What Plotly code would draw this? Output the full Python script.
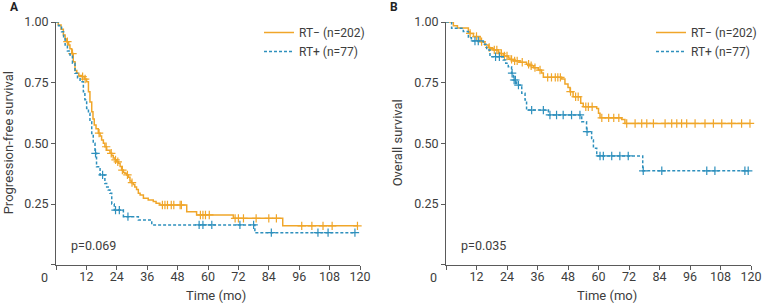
import bisect
import plotly.graph_objects as go

# ---------------- data ----------------
# Panel A: progression-free survival (Kaplan-Meier steps)
pfs_neg_t = [0, 0.9, 2.0, 2.9, 3.6, 4.2, 5.0, 5.5, 6.2, 6.8, 7.5, 8.2, 9.0, 10.1, 11.2, 12.1, 12.8, 13.4,
             14.1, 14.6, 15.1, 15.8, 16.7, 17.4, 18.0, 18.7, 19.3, 20.0, 21.3, 22.0, 22.6, 23.3, 24.0, 24.6,
             25.3, 25.9, 26.6, 27.2, 27.9, 28.6, 29.2, 29.8, 30.5, 31.1, 31.8, 32.5, 33.2, 34.5, 36.4, 38.4,
             39.5, 41.0, 51.6, 55.5, 70.0, 89.5, 119]
pfs_neg_s = [1.0, 0.988, 0.97, 0.946, 0.93, 0.919, 0.905, 0.89, 0.87, 0.836, 0.80, 0.789, 0.78, 0.775, 0.765,
             0.754, 0.713, 0.67, 0.63, 0.60, 0.576, 0.56, 0.542, 0.53, 0.514, 0.50, 0.486, 0.472, 0.459, 0.45,
             0.44, 0.432, 0.424, 0.418, 0.405, 0.39, 0.38, 0.377, 0.37, 0.36, 0.345, 0.338, 0.33, 0.32, 0.31,
             0.294, 0.287, 0.274, 0.267, 0.26, 0.253, 0.246, 0.218, 0.205, 0.191, 0.16, 0.16]
pfs_neg_cens = [4.5, 6.5, 10.5, 11.5, 17.0, 19.8, 21.8, 23.5, 24.4, 26.2, 28.2, 30.0, 42, 43, 44, 45.5, 46.5,
                49, 49.5, 57, 58, 59, 60.5, 70.7, 72, 74, 79, 84, 87, 97, 101, 105.4, 109, 119]

pfs_pos_t = [0, 1.0, 2.2, 3.0, 3.6, 4.5, 5.5, 6.5, 7.5, 8.5, 9.5, 10.8, 11.4, 12.1, 12.8, 13.4, 14.1, 14.7,
             15.4, 16.0, 17.4, 19.3, 20.0, 20.6, 21.3, 22.0, 23.0, 26.6, 32.5, 37.8, 78.5, 118]
pfs_pos_s = [1.0, 0.985, 0.96, 0.935, 0.905, 0.88, 0.864, 0.83, 0.789, 0.77, 0.754, 0.713, 0.68, 0.644, 0.624,
             0.589, 0.541, 0.50, 0.459, 0.404, 0.37, 0.335, 0.32, 0.308, 0.294, 0.25, 0.225, 0.198, 0.184,
             0.164, 0.132, 0.132]
pfs_pos_cens = [15.6, 18.4, 23.5, 25.0, 28.4, 56.5, 58, 61.5, 72.6, 78, 85, 103.4, 107.4, 118]

# Panel B: overall survival
os_neg_t = [0, 2.9, 4.5, 8.8, 9.4, 10.8, 13.4, 15.3, 16.7, 17.3, 18.6, 20.6, 21.2, 22.6, 24.5, 25.2, 26.5,
            29.1, 31.7, 33.0, 34.5, 36.3, 37.6, 38.3, 45.5, 46.8, 48.0, 48.8, 50.0, 53.0, 54.0, 59.3, 60.0,
            60.6, 69.1, 70.4, 119.6]
os_neg_s = [1.0, 0.985, 0.975, 0.96, 0.953, 0.94, 0.919, 0.905, 0.895, 0.89, 0.885, 0.875, 0.87, 0.86, 0.852,
            0.846, 0.84, 0.834, 0.826, 0.82, 0.812, 0.802, 0.79, 0.772, 0.765, 0.745, 0.73, 0.713, 0.692,
            0.665, 0.651, 0.644, 0.624, 0.605, 0.598, 0.582, 0.582]
os_neg_cens = [9.5, 12, 14, 17, 19, 20, 21.8, 23, 24, 25.8, 27, 28, 30, 32.5, 33.5, 35, 37, 40, 41.5, 43, 44,
               45, 49, 51, 52, 55, 56, 57.5, 61.3, 64, 66, 68, 71.1, 74.4, 77, 79, 81.6, 86.2, 88.8, 90.8,
               92.7, 94.7, 98, 101.9, 105.2, 108.5, 112.4, 116.3, 119.6]

os_pos_t = [0, 2.2, 6.8, 8.8, 10.0, 14.7, 16.0, 17.3, 22.5, 23.5, 24.5, 25.8, 26.5, 27.8, 29.8, 31.1, 31.7,
            40.3, 53.4, 55.3, 57.3, 58.0, 59.3, 77.4, 118.9]
os_pos_s = [1.0, 0.974, 0.961, 0.935, 0.922, 0.908, 0.885, 0.857, 0.843, 0.83, 0.816, 0.789, 0.761, 0.74,
            0.706, 0.679, 0.637, 0.617, 0.589, 0.548, 0.514, 0.48, 0.448, 0.387, 0.387]
os_pos_cens = [11.4, 12.7, 19.5, 21, 26, 26.8, 27.3, 28.5, 33.7, 38.3, 40.9, 43.5, 46.1, 49.4, 52.7, 55.5,
               60.6, 61.9, 65.2, 68.4, 71.7, 77.6, 84.9, 102.6, 105.8, 117.6, 118.9]

x_ticks = [0, 12, 24, 36, 48, 60, 72, 84, 96, 108, 120]
y_ticks = [0, 0.25, 0.5, 0.75, 1.0]
y_labels = ["", "0.25", "0.50", "0.75", "1.00"]
group_names = ["RT\u2212 (n=202)", "RT+ (n=77)"]
p_values = ["p=0.069", "p=0.035"]
y_titles = ["Progression-free survival", "Overall survival"]
panel_labels = ["A", "B"]

# ---------------- style ----------------
ORANGE = "#F0A62A"
BLUE = "#2E90BD"
TXT = "#3d3d3d"
AX = "#5a5a5a"
FONT = "Roboto"
W, H = 762, 307


def step_at(ts, ss, t):
    i = bisect.bisect_right(ts, t) - 1
    return ss[max(i, 0)]


fig = go.Figure()

panels = [
    (pfs_neg_t, pfs_neg_s, pfs_neg_cens, pfs_pos_t, pfs_pos_s, pfs_pos_cens),
    (os_neg_t, os_neg_s, os_neg_cens, os_pos_t, os_pos_s, os_pos_cens),
]

for k, (nt, ns, nc, pt, ps, pc) in enumerate(panels):
    xa = "x" if k == 0 else "x2"
    ya = "y" if k == 0 else "y2"
    lg = "legend" if k == 0 else "legend2"
    for (ts, ss, cs, col, dash, name) in [
        (nt, ns, nc, ORANGE, "solid", group_names[0]),
        (pt, ps, pc, BLUE, "3px,2px", group_names[1]),
    ]:
        fig.add_trace(go.Scatter(
            x=ts, y=ss, mode="lines", line=dict(color=col, width=1.5, dash=dash, shape="hv"),
            name=name, xaxis=xa, yaxis=ya, legend=lg, cliponaxis=False, hoverinfo="skip"))
        fig.add_trace(go.Scatter(
            x=cs, y=[step_at(ts, ss, c) for c in cs], mode="markers",
            marker=dict(symbol="cross-thin", size=6, line=dict(color=col, width=1.2)),
            showlegend=False, xaxis=xa, yaxis=ya, cliponaxis=False, hoverinfo="skip"))

# axis geometry (pixel based)
y_bot, y_top = 264.7, 22.0
ydom = [1 - y_bot / H, 1 - y_top / H]
xdoms = [[56 / W, 360 / W], [446 / W, 751 / W]]

axis_common = dict(showline=True, linecolor=AX, linewidth=1, ticks="outside", ticklen=4,
                   tickcolor=AX, tickwidth=1, showgrid=False, zeroline=False, automargin=False,
                   tickfont=dict(family=FONT, size=12.5, color=TXT))

for k in range(2):
    sx = "" if k == 0 else "2"
    fig.update_layout(**{
        "xaxis" + sx: dict(axis_common, domain=xdoms[k], range=[0, 120], tickvals=x_ticks,
                           ticktext=[""] + [str(v) for v in x_ticks[1:]], anchor="y" + sx,
                           ticklabelstandoff=-4),
        "yaxis" + sx: dict(axis_common, domain=ydom, range=[0, 1.0], tickvals=y_ticks,
                           ticktext=y_labels, anchor="x" + sx),
    })

ann = []
for k in range(2):
    x0 = xdoms[k][0] * W
    x1 = xdoms[k][1] * W
    off = 0 if k == 0 else 380
    # origin "0"
    ann.append(dict(x=(x0 - 12) / W, y=1 - 277 / H, xref="paper", yref="paper", text="0",
                    xanchor="center", yanchor="middle",
                    showarrow=False, font=dict(family=FONT, size=12.5, color=TXT)))
    # x title
    ann.append(dict(x=((x0 + x1) / 2 + 8) / W, y=1 - 295 / H, xref="paper", yref="paper",
                    xanchor="center", yanchor="middle",
                    text="Time (mo)", showarrow=False, font=dict(family=FONT, size=13, color=TXT)))
    # y title
    ann.append(dict(x=(off + 8 + (9 if k == 1 else 0)) / W, y=1 - ((y_bot + y_top) / 2 + 0) / H,
                    xref="paper", yref="paper", text=y_titles[k], textangle=-90, showarrow=False,
                    xanchor="center", yanchor="middle",
                    font=dict(family=FONT, size=13, color=TXT)))
    # panel label
    ann.append(dict(x=(off + 8) / W, y=1 - 6.5 / H, xref="paper", yref="paper",
                    text="<b>%s</b>" % panel_labels[k], xanchor="left", yanchor="middle",
                    showarrow=False, font=dict(family=FONT, size=12, color="#222")))
    # p value
    ann.append(dict(x=5.0, y=0.078, xref="x" + ("" if k == 0 else "2"), yref="y" + ("" if k == 0 else "2"),
                    text=p_values[k], showarrow=False, xanchor="left", yanchor="middle",
                    font=dict(family=FONT, size=12.5, color=TXT)))

leg_common = dict(font=dict(family=FONT, size=12, color=TXT), bgcolor="rgba(0,0,0,0)",
                  xanchor="left", yanchor="top", itemwidth=30, tracegroupgap=0,
                  xref="container", yref="container")

fig.update_layout(
    width=W, height=H, margin=dict(l=0, r=0, t=0, b=0, autoexpand=False),
    paper_bgcolor="white", plot_bgcolor="white",
    annotations=ann,
    legend=dict(leg_common, x=259 / W, y=1 - 18 / H),
    legend2=dict(leg_common, x=(259 + 392) / W, y=1 - 18 / H),
    showlegend=True,
)

fig.write_html("out.html", config={"displayModeBar": False},
               post_script="document.body.style.margin='0';document.body.style.overflow='hidden';")
